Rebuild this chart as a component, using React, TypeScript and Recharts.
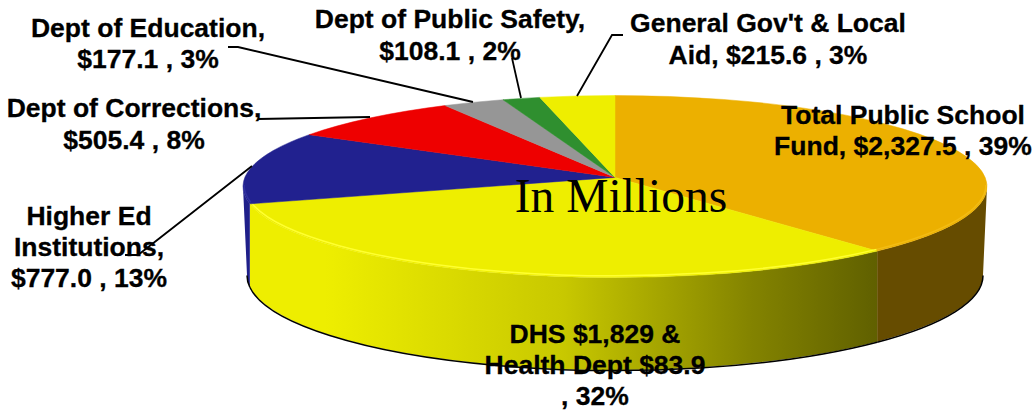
import { PieChart, Pie, Cell } from "recharts";

const categories = [
  "Total Public School Fund",
  "DHS & Health Dept",
  "Higher Ed Institutions",
  "Dept of Corrections",
  "Dept of Education",
  "Dept of Public Safety",
  "General Gov't & Local Aid",
];
const amounts = [2327.5, 1912.9, 777.0, 505.4, 177.1, 108.1, 215.6];
const topColors = ["#ecb000", "#eeee00", "#21218f", "#ee0000", "#969696", "#2f8f2f", "#eeee00"];
const wallColors = ["#664c00", "url(#wallYellow)", "#1f1f8a", "#8f0000", "#5a5a5a", "#1c561c", "#8f8f00"];
const rimColors = ["#f2bc14", "#ffff30", "#3030a0", "#ee0000", "#969696", "#2f8f2f", "#eeee00"];
const labelLines = [
  ["Total Public School", "Fund, $2,327.5 , 39%"],
  ["DHS $1,829 &", "Health Dept $83.9", ", 32%"],
  ["Higher Ed", "Institutions,", "$777.0 , 13%"],
  ["Dept of Corrections,", "$505.4 , 8%"],
  ["Dept of Education,", "$177.1 , 3%"],
  ["Dept of Public Safety,", "$108.1 , 2%"],
  ["General Gov't & Local", "Aid, $215.6 , 3%"],
];

const pieData = categories.map((name, i) => ({ name, value: amounts[i] }));

// where each label sits: centre x and the baseline of each line
const labelSpots = [
  { x: 903, y: [124, 155] },
  { x: 595, y: [343, 374, 405] },
  { x: 89, y: [225, 256, 287] },
  { x: 134, y: [117, 149] },
  { x: 148, y: [37, 68] },
  { x: 450, y: [28, 60] },
  { x: 768, y: [32, 64] },
];
const leaders = [
  null,
  null,
  "M125 255L138 255L252 166",
  "M258 119L370 117",
  "M228 47L238 47L473 102",
  "M512 58L521 98",
  "M623 35L612 35L577 96",
];

const tilt = 91 / 372; // ellipse height over width
const lean = 0.1; // how far the apex sits above the ellipse centre
const rad = Math.PI / 180;
// bottom edge of the wall is a slightly smaller ellipse, from perspective
const floorRx = 368;
const floorRy = 95;
const floorDrop = 88.5;

// perspective of the pie disc: true pie angle -> angle on the drawn ellipse
function perspective(angle: number) {
  const u = Math.cos(angle * rad);
  const v = Math.sin(angle * rad);
  const d = 1 + lean * v;
  const pu = (u * Math.sqrt(1 - lean * lean)) / d;
  const pv = (v + lean) / d;
  let t = Math.atan2(pv, pu) / rad;
  while (t > angle + 180) t -= 360;
  while (t < angle - 180) t += 360;
  return t;
}

function rimPoint(cx: number, cy: number, r: number, t: number) {
  return { x: cx + r * Math.cos(t * rad), y: cy - r * tilt * Math.sin(t * rad) };
}

// point on the front half of the floor ellipse straight below x
function floorPoint(cx: number, cy: number, x: number) {
  const c = Math.max(-1, Math.min(1, (x - cx) / floorRx));
  return { x: cx + c * floorRx, y: cy + floorDrop + floorRy * Math.sqrt(1 - c * c) };
}

function TopSlice(props: any) {
  const { cx, cy, outerRadius: r, startAngle, endAngle, fill, index } = props;
  const t0 = perspective(startAngle);
  const t1 = perspective(endAngle);
  const a = rimPoint(cx, cy, r, t0);
  const b = rimPoint(cx, cy, r, t1);
  const apexY = cy - r * tilt * lean;
  const large = Math.abs(t0 - t1) > 180 ? 1 : 0;
  // thin lighter bevel on the front rim
  const f0 = Math.min(t0, 0);
  const f1 = Math.max(t1, -180);
  const c = rimPoint(cx, cy, r - 1, f0);
  const e = rimPoint(cx, cy, r - 1, f1);
  return (
    <g>
      <path
        d={`M${cx} ${apexY}L${a.x} ${a.y}A${r} ${r * tilt} 0 ${large} 1 ${b.x} ${b.y}Z`}
        fill={fill}
        stroke={fill}
        strokeWidth={0.5}
      />
      {f1 < f0 && (
        <path
          d={`M${c.x} ${c.y - 1.5}A${r - 1} ${(r - 1) * tilt} 0 0 1 ${e.x} ${e.y - 1.5}`}
          fill="none"
          stroke={rimColors[index]}
          strokeWidth={1.5}
        />
      )}
    </g>
  );
}

// wall below the rim, only the part turned towards the viewer
function WallSlice(props: any) {
  const { cx, cy, outerRadius: r, startAngle, endAngle, fill } = props;
  const t0 = Math.min(perspective(startAngle), 0);
  const t1 = Math.max(perspective(endAngle), -180);
  if (t1 >= t0) return null;
  const a = rimPoint(cx, cy, r, t0);
  const b = rimPoint(cx, cy, r, t1);
  const fa = floorPoint(cx, cy, a.x);
  const fb = floorPoint(cx, cy, b.x);
  return (
    <g>
      <path
        d={`M${a.x} ${a.y}A${r} ${r * tilt} 0 0 1 ${b.x} ${b.y}L${fb.x} ${fb.y}A${floorRx} ${floorRy} 0 0 0 ${fa.x} ${fa.y}Z`}
        fill={fill}
      />
      <path
        d={`M${fa.x} ${fa.y + 0.5}A${floorRx} ${floorRy} 0 0 1 ${fb.x} ${fb.y + 0.5}`}
        fill="none"
        stroke="#000"
        strokeWidth={1.5}
      />
    </g>
  );
}

function SliceLabel(props: any) {
  const spot = labelSpots[props.index];
  const lines = labelLines[props.index];
  const leader = leaders[props.index];
  return (
    <g>
      {leader && <path d={leader} fill="none" stroke="#000" strokeWidth={1.8} />}
      <text
        textAnchor="middle"
        fontFamily="Liberation Sans"
        fontWeight="bold"
        fontSize={26.5}
        fill="#000"
        stroke="#000"
        strokeWidth={0.3}
      >
        {lines.map((line, i) => (
          <tspan key={i} x={spot.x} y={spot.y[i]}>
            {line}
          </tspan>
        ))}
      </text>
    </g>
  );
}

export default function App() {
  return (
    <div style={{ position: "absolute", left: 0, top: 0, width: 1034, height: 411 }}>
      <PieChart width={1034} height={411} margin={{ top: 0, right: 0, bottom: 0, left: 0 }}>
        <defs>
          <linearGradient id="wallYellow" gradientUnits="userSpaceOnUse" x1={250} y1={0} x2={877} y2={0}>
            <stop offset="0" stopColor="#eeee00" />
            <stop offset="0.12" stopColor="#eeee00" />
            <stop offset="0.5" stopColor="#c8c800" />
            <stop offset="0.8" stopColor="#838300" />
            <stop offset="1" stopColor="#606000" />
          </linearGradient>
        </defs>
        <Pie
          data={pieData}
          dataKey="value"
          cx={615}
          cy={186.5}
          outerRadius={372}
          startAngle={90}
          endAngle={-270}
          stroke="none"
          shape={WallSlice}
          isAnimationActive={false}
        >
          {pieData.map((d, i) => (
            <Cell key={d.name} fill={wallColors[i]} />
          ))}
        </Pie>
        <Pie
          data={pieData}
          dataKey="value"
          cx={615}
          cy={186.5}
          outerRadius={372}
          startAngle={90}
          endAngle={-270}
          stroke="none"
          shape={TopSlice}
          label={SliceLabel}
          labelLine={false}
          isAnimationActive={false}
        >
          {pieData.map((d, i) => (
            <Cell key={d.name} fill={topColors[i]} />
          ))}
        </Pie>
      </PieChart>
      <svg width={1034} height={411} style={{ position: "absolute", left: 0, top: 0 }}>
        <text x={621} y={212} textAnchor="middle" fontFamily="Liberation Serif" fontSize={47.5} fill="#000">
          In Millions
        </text>
      </svg>
    </div>
  );
}
